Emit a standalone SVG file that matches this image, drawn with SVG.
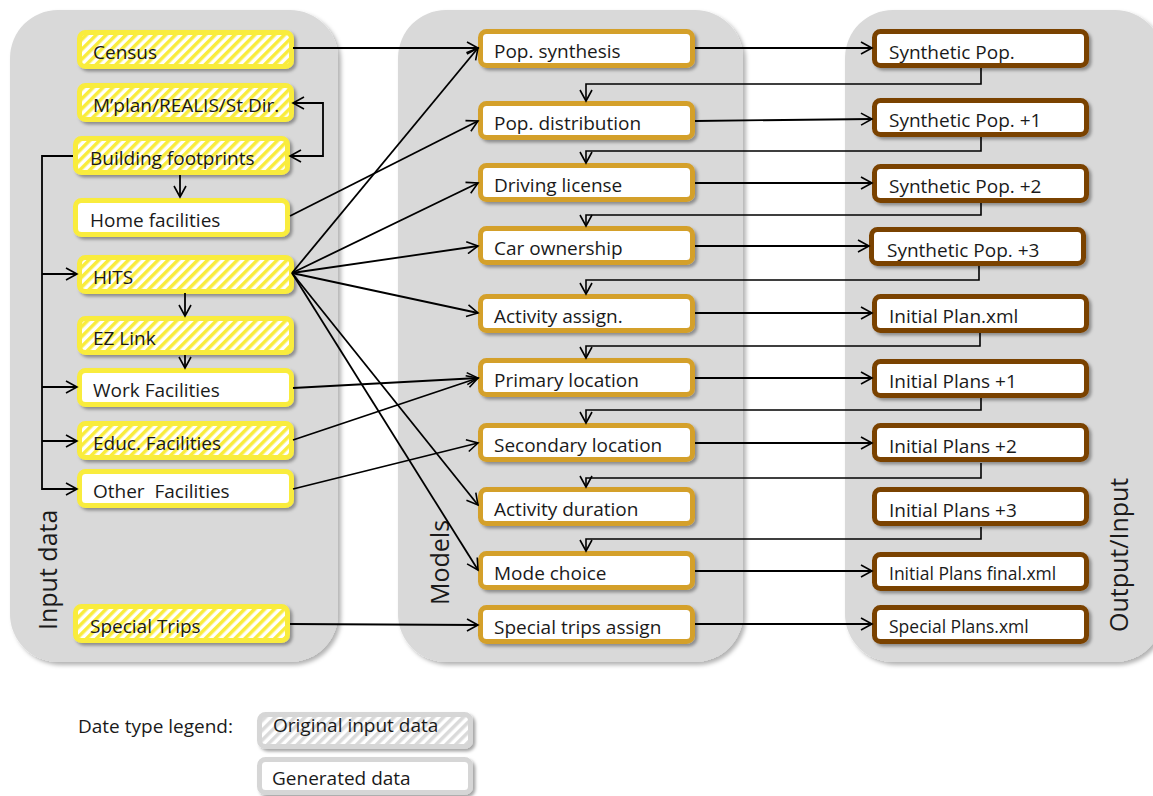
<svg xmlns="http://www.w3.org/2000/svg" width="1153" height="796" viewBox="0 0 1153 796">
<defs>
<filter id="psh" x="-5%" y="-5%" width="115%" height="115%"><feDropShadow dx="3" dy="3" stdDeviation="2" flood-color="#000" flood-opacity="0.3"/></filter>
<filter id="sh" x="-10%" y="-20%" width="125%" height="160%"><feDropShadow dx="2.5" dy="2.5" stdDeviation="1.8" flood-color="#000" flood-opacity="0.35"/></filter>
<pattern id="hy" patternUnits="userSpaceOnUse" width="7" height="7" patternTransform="rotate(45)"><rect width="7" height="7" fill="#fff"/><rect width="3.5" height="7" fill="#f9ec3c"/></pattern>
<pattern id="hg" patternUnits="userSpaceOnUse" width="7" height="7" patternTransform="rotate(45)"><rect width="7" height="7" fill="#fff"/><rect width="3.5" height="7" fill="#dadada"/></pattern>
<marker id="ar" markerUnits="userSpaceOnUse" markerWidth="14" markerHeight="14" viewBox="-1 -1 14 14" refX="11" refY="6" orient="auto-start-reverse"><path d="M0,0 L11,6 L0,12" fill="none" stroke="#000" stroke-width="1.6"/></marker>
<style>
.panel{fill:#d9d9d9;filter:url(#psh)}
.box rect{stroke-width:5;filter:url(#sh)}
.in rect{stroke:#f9ec3c}
.hat rect{fill:url(#hy)}
.pl rect{fill:#fff}
.md rect{stroke:#d4a02c;fill:#fff}
.out rect{stroke:#7a4204;fill:#fff}
.lg rect{stroke:#d6d6d6}
text{font-family:"Open Sans","Noto Sans","Liberation Sans",sans-serif;font-size:19px;fill:#1a1a1a}
.sm{font-size:17.5px}
.big{font-size:25px}
.conn path{stroke:#000;stroke-width:1.8;fill:none;marker-end:url(#ar)}
.conn path.fb{stroke-width:1.6}
.conn path.both{marker-start:url(#ar)}
</style>
</defs>
<rect width="1153" height="796" fill="#fff"/>
<g id="panels">
<rect class="panel" x="10" y="10" width="328" height="652" rx="48"/>
<rect class="panel" x="398" y="10" width="345" height="652" rx="48"/>
<rect class="panel" x="845" y="10" width="318" height="652" rx="48"/>
<text class="big" transform="translate(57,630) rotate(-90)">Input data</text>
<text class="big" transform="translate(449,605) rotate(-90)">Models</text>
<text class="big" transform="translate(1128,632) rotate(-90)">Output/Input</text>
</g>
<g id="census" class="box in hat"><rect x="79.5" y="32.5" width="212" height="34" rx="6"/><text x="93" y="59">Census</text></g>
<g id="mplan" class="box in hat"><rect x="79.5" y="85.5" width="212" height="34" rx="6"/><text x="93" y="112">M’plan/REALIS/St.Dir.</text></g>
<g id="building" class="box in hat"><rect x="75.5" y="138.5" width="212" height="34" rx="6"/><text x="90" y="165">Building footprints</text></g>
<g id="home" class="box in pl"><rect x="75.5" y="200.5" width="212" height="34" rx="6"/><text x="90" y="227">Home facilities</text></g>
<g id="hits" class="box in hat"><rect x="79.5" y="257.5" width="212" height="34" rx="6"/><text x="93" y="284">HITS</text></g>
<g id="ezlink" class="box in hat"><rect x="79.5" y="318.5" width="212" height="34" rx="6"/><text x="93" y="345">EZ Link</text></g>
<g id="work" class="box in pl"><rect x="79.5" y="370.5" width="212" height="34" rx="6"/><text x="93" y="397">Work Facilities</text></g>
<g id="educ" class="box in hat"><rect x="79.5" y="423.5" width="212" height="34" rx="6"/><text x="93" y="450">Educ. Facilities</text></g>
<g id="other" class="box in pl"><rect x="79.5" y="471.5" width="212" height="34" rx="6"/><text x="93" y="498">Other&#160; Facilities</text></g>
<g id="special" class="box in hat"><rect x="75.5" y="606.5" width="212" height="34" rx="6"/><text x="90" y="633">Special Trips</text></g>

<g id="popsyn" class="box md"><rect x="480.5" y="31.5" width="212" height="34" rx="6"/><text x="494" y="58">Pop. synthesis</text></g>
<g id="popdist" class="box md"><rect x="480.5" y="103.5" width="212" height="34" rx="6"/><text x="494" y="130">Pop. distribution</text></g>
<g id="driving" class="box md"><rect x="480.5" y="165.5" width="212" height="34" rx="6"/><text x="494" y="192">Driving license</text></g>
<g id="car" class="box md"><rect x="480.5" y="228.5" width="212" height="34" rx="6"/><text x="494" y="255">Car ownership</text></g>
<g id="actassign" class="box md"><rect x="480.5" y="296.5" width="212" height="34" rx="6"/><text x="494" y="323">Activity assign.</text></g>
<g id="primary" class="box md"><rect x="480.5" y="360.5" width="212" height="34" rx="6"/><text x="494" y="387">Primary location</text></g>
<g id="secondary" class="box md"><rect x="480.5" y="425.5" width="212" height="34" rx="6"/><text x="494" y="452">Secondary location</text></g>
<g id="actdur" class="box md"><rect x="480.5" y="489.5" width="212" height="34" rx="6"/><text x="494" y="516">Activity duration</text></g>
<g id="mode" class="box md"><rect x="480.5" y="553.5" width="212" height="34" rx="6"/><text x="494" y="580">Mode choice</text></g>
<g id="spassign" class="box md"><rect x="480.5" y="607.5" width="212" height="34" rx="6"/><text x="494" y="634">Special trips assign</text></g>

<g id="synpop" class="box out"><rect x="874.5" y="31.5" width="212" height="34" rx="6"/><text x="889" y="59">Synthetic Pop.</text></g>
<g id="synpop1" class="box out"><rect x="874.5" y="100.5" width="212" height="34" rx="6"/><text x="889" y="127">Synthetic Pop. +1</text></g>
<g id="synpop2" class="box out"><rect x="874.5" y="166.5" width="212" height="34" rx="6"/><text x="889" y="193">Synthetic Pop. +2</text></g>
<g id="synpop3" class="box out"><rect x="871.5" y="229.5" width="212" height="34" rx="6"/><text x="887" y="257">Synthetic Pop. +3</text></g>
<g id="initplan" class="box out"><rect x="874.5" y="296.5" width="212" height="34" rx="6"/><text x="889" y="323">Initial Plan.xml</text></g>
<g id="initplans1" class="box out"><rect x="874.5" y="361.5" width="212" height="34" rx="6"/><text x="889" y="388">Initial Plans +1</text></g>
<g id="initplans2" class="box out"><rect x="874.5" y="425.5" width="212" height="34" rx="6"/><text x="889" y="453">Initial Plans +2</text></g>
<g id="initplans3" class="box out"><rect x="874.5" y="489.5" width="212" height="34" rx="6"/><text x="889" y="517">Initial Plans +3</text></g>
<g id="initfinal" class="box out"><rect x="874.5" y="554.5" width="212" height="34" rx="6"/><text class="sm" x="889" y="580">Initial Plans final.xml</text></g>
<g id="spplans" class="box out"><rect x="874.5" y="607.5" width="212" height="34" rx="6"/><text class="sm" x="889" y="633">Special Plans.xml</text></g>

<g id="connectors" class="conn">
<path class="both" d="M293,103 L323,103 L323,156 L290,156"/>
<path d="M180,175 L180,197"/>
<path d="M185,293 L185,316"/>
<path d="M185,355 L185,368"/>
<path d="M73,156 L42,156 L42,489 L77,489"/>
<path d="M42,274 L77,274"/>
<path d="M42,387 L77,387"/>
<path d="M42,441 L77,441"/>
<path d="M293,48 L478,48"/>
<path d="M292,273 L478,48"/>
<path d="M290,216 L478,121"/>
<path d="M292,273 L478,183"/>
<path d="M292,273 L478,246"/>
<path d="M292,273 L478,313"/>
<path d="M292,273 L478,505"/>
<path d="M292,273 L478,570"/>
<path d="M293,388 L478,378"/>
<path d="M293,440 L478,378"/>
<path d="M293,489 L478,443"/>
<path d="M290,624 L478,625"/>
<path d="M695,48 L872,48"/>
<path d="M695,121 L872,119"/>
<path d="M695,183 L872,183"/>
<path d="M695,246 L869,246"/>
<path d="M695,313 L872,313"/>
<path d="M695,378 L872,378"/>
<path d="M695,443 L872,443"/>
<path d="M695,571 L872,571"/>
<path d="M695,624 L872,624"/>
<path class="fb" d="M981,68 L981,84 L586,84 L586,101"/>
<path class="fb" d="M981,137 L981,151 L586,151 L586,163"/>
<path class="fb" d="M981,203 L981,215 L586,215 L586,226"/>
<path class="fb" d="M979,266 L979,280 L586,280 L586,294"/>
<path class="fb" d="M980,333 L980,346 L586,346 L586,358"/>
<path class="fb" d="M981,398 L981,410 L586,410 L586,423"/>
<path class="fb" d="M981,463 L981,478 L586,478 L586,487"/>
<path class="fb" d="M981,527 L981,539 L586,539 L586,551"/>
</g>

<g id="legend">
<text x="78" y="733">Date type legend:</text>
<g id="legend-original" class="box lg"><rect x="259.5" y="714.5" width="211" height="32" rx="6" fill="url(#hg)"/><text x="273" y="732">Original input data</text></g>
<g id="legend-generated" class="box lg"><rect x="259.5" y="759.5" width="211" height="33" rx="6" fill="#fff"/><text x="272" y="785">Generated data</text></g>
</g>
</svg>
